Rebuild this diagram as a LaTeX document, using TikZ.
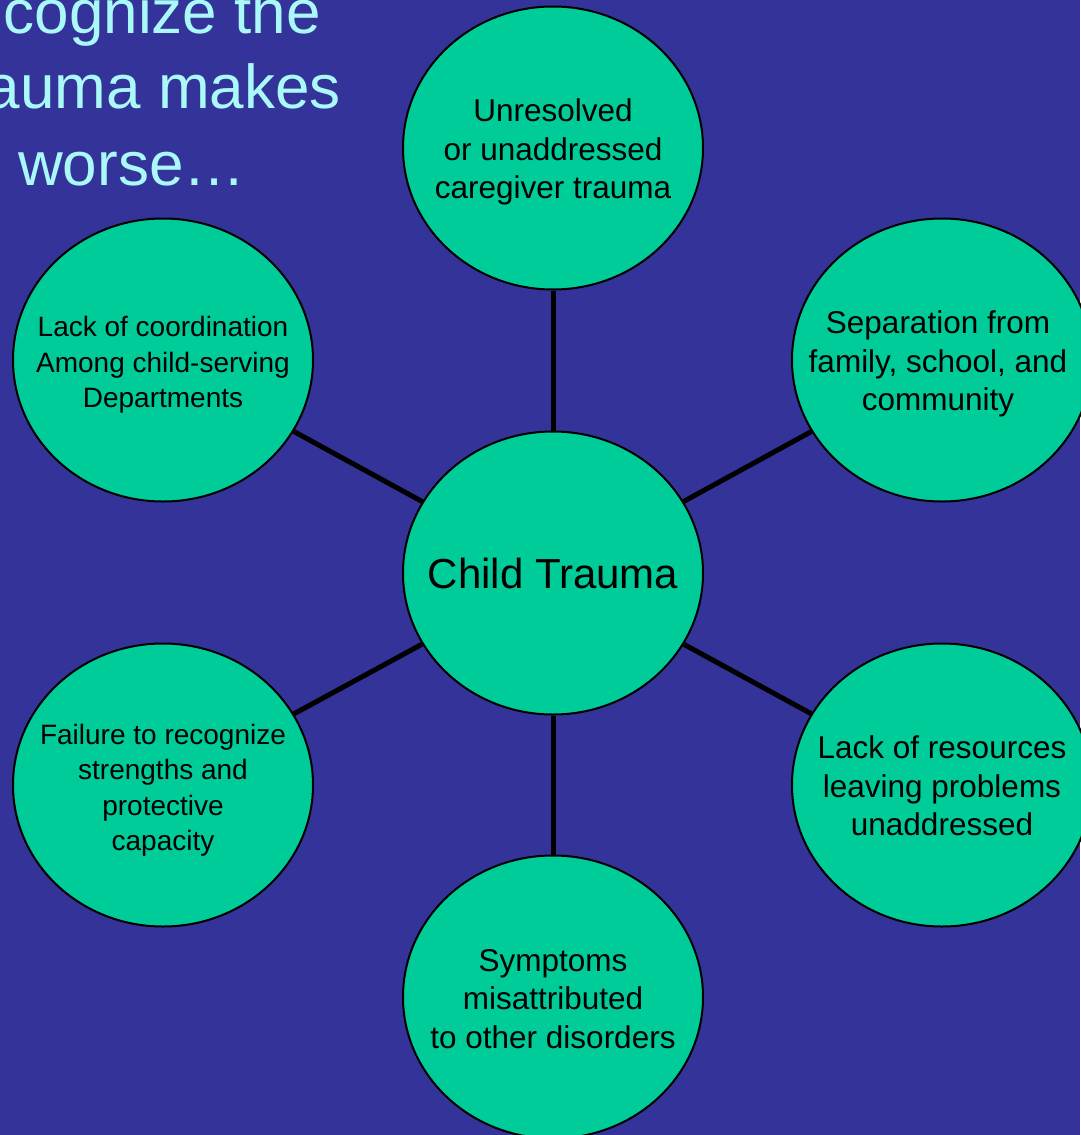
\documentclass[tikz,border=0pt]{standalone}
\usepackage{fontspec}
\setmainfont{Liberation Sans}
\usetikzlibrary{shapes.geometric}
\definecolor{bgblue}{HTML}{333399}
\definecolor{circgreen}{HTML}{00CC99}
\definecolor{titlecyan}{HTML}{AAF8F8}
\tikzset{
  bubble/.style={ellipse, draw=black, line width=2pt, fill=circgreen,
    minimum width=300pt, minimum height=283pt, inner sep=0pt},
  bubbletext/.style={align=center, inner sep=0pt, text=black,
    font=\fontsize{31.5}{38.5}\selectfont},
  smalltext/.style={bubbletext, font=\fontsize{28}{35.5}\selectfont},
  spoke/.style={draw=black, line width=5pt},
  titletext/.style={text=titlecyan, inner sep=0pt, font=\fontsize{62}{75}\selectfont}
}
\begin{document}
\begin{tikzpicture}[x=1pt,y=-1pt]
\useasboundingbox (0,0) rectangle (1080,1135);
\fill[bgblue] (0,0) rectangle (1080,1135);
% title fragments
\node[titletext, anchor=base east] (title1) at (321,33) {cognize the};
\node[titletext, anchor=base east] (title2) at (341,108) {auma makes};
\node[titletext, anchor=base west] (title3) at (18,185) {worse…};
% bubbles (shapes only)
\node[bubble] (center) at (553,573) {};
\node[bubble] (top) at (553,148) {};
\node[bubble] (ru) at (942,360) {};
\node[bubble] (rl) at (942,785) {};
\node[bubble] (bottom) at (553,997) {};
\node[bubble] (lu) at (163,360) {};
\node[bubble] (ll) at (163,785) {};
% spokes (between the bubbles' rims)
\draw[spoke] (center) -- (top);
\draw[spoke] (center) -- (ru);
\draw[spoke] (center) -- (rl);
\draw[spoke] (center) -- (bottom);
\draw[spoke] (center) -- (lu);
\draw[spoke] (center) -- (ll);
% texts
\node[bubbletext, font=\fontsize{42}{50}\selectfont] (centertext) at (center.center) {Child Trauma};
\node[bubbletext] (toptext) at ([yshift=-4pt]top.center) {Unresolved\\ or unaddressed\\caregiver trauma};
\node[bubbletext] (rutext) at ([xshift=-4pt,yshift=-4pt]ru.center) {Separation from\\family, school, and\\community};
\node[bubbletext] (rltext) at ([yshift=-1pt]rl.center) {Lack of resources\\leaving problems\\unaddressed};
\node[bubbletext] (bottomtext) at ([yshift=-2pt]bottom.center) {Symptoms\\misattributed\\to other disorders};
\node[smalltext] (lutext) at ([yshift=-5pt]lu.center) {Lack of coordination\\Among child-serving\\Departments};
\node[smalltext] (lltext) at ([yshift=-5pt]ll.center) {Failure to recognize\\strengths and\\protective\\capacity};
\end{tikzpicture}
\end{document}
